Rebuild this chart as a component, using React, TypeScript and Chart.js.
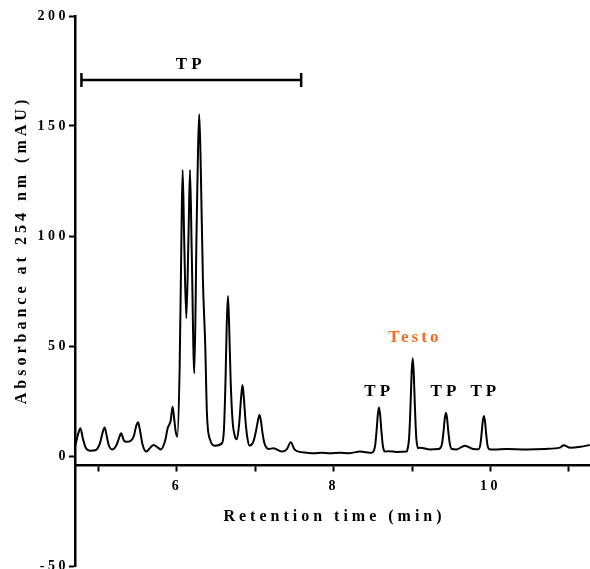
import React, { useEffect, useRef } from "react";
import { Chart, registerables } from "chart.js";

Chart.register(...registerables);

// Retention time (min)
const time = [
  4.706, 4.74, 4.769, 4.8, 4.84, 4.9, 4.96, 5.02, 5.055, 5.079,
  5.105, 5.13, 5.173, 5.23, 5.265, 5.288, 5.325, 5.355, 5.406, 5.45,
  5.48, 5.504, 5.53, 5.56, 5.61, 5.66, 5.703, 5.75, 5.797, 5.85,
  5.882, 5.92, 5.945, 5.965, 5.985, 6.005, 6.035, 6.058, 6.073, 6.092,
  6.12, 6.148, 6.167, 6.188, 6.222, 6.25, 6.27, 6.285, 6.305, 6.332,
  6.362, 6.383, 6.425, 6.489, 6.575, 6.6, 6.62, 6.636, 6.651, 6.666,
  6.686, 6.71, 6.74, 6.766, 6.795, 6.82, 6.837, 6.855, 6.875, 6.9,
  6.926, 6.98, 7.018, 7.036, 7.054, 7.072, 7.09, 7.115, 7.168, 7.232,
  7.339, 7.4, 7.453, 7.5, 7.55, 7.657, 7.75, 7.85, 7.95, 8.08,
  8.2, 8.336, 8.485, 8.503, 8.528, 8.548, 8.563, 8.578, 8.593, 8.608,
  8.628, 8.653, 8.7, 8.8, 8.931, 8.938, 8.963, 8.98, 8.994, 9.008,
  9.022, 9.036, 9.053, 9.078, 9.101, 9.228, 9.334, 9.357, 9.382, 9.402,
  9.417, 9.432, 9.447, 9.462, 9.482, 9.507, 9.568, 9.674, 9.78, 9.846,
  9.871, 9.888, 9.902, 9.916, 9.93, 9.944, 9.961, 9.986, 10.05, 10.205,
  10.46, 10.7, 10.884, 10.935, 11.011, 11.15, 11.266,
];

// Absorbance at 254 nm (mAU)
const absorbance = [
  5.0, 10, 12.6, 8, 3.5, 2.4, 2.6, 6, 11, 13.0,
  9, 5, 3.0, 5, 8.5, 10.3, 7, 6.5, 6.8, 9,
  13.5, 15.3, 11.5, 5.5, 2.0, 3.8, 5.0, 4, 3.0, 7,
  12.6, 16, 22.4, 17, 11, 8.8, 40, 100, 130, 100,
  62.6, 100, 130, 95, 37.6, 100, 140, 155.3, 130, 80,
  49.7, 19.4, 7.3, 4.7, 5.8, 12, 34, 60, 72.7, 60,
  34, 16, 9, 7.6, 15, 27, 32.3, 26, 16, 8,
  4.7, 7, 13, 16.5, 18.6, 16, 11, 6, 3.2, 3.5,
  2.0, 3, 6.2, 3, 2.0, 1.5, 1.2, 1.5, 1.2, 1.5,
  1.3, 2.0, 1.5, 1.8, 4.5, 11.8, 18.7, 22.0, 18.7, 11.8,
  4.5, 2.0, 2.2, 1.8, 2.0, 2.5, 8.7, 22.6, 37.3, 44.4,
  37.3, 22.6, 8.7, 3.5, 3.8, 3.0, 3.2, 3.5, 5.5, 11.3,
  17, 19.7, 17, 11.3, 5.5, 3.2, 3.0, 4.7, 3.2, 3.1,
  5.2, 10.6, 15.8, 18.2, 15.8, 10.6, 5.2, 3.1, 3.0, 3.2,
  3.0, 3.2, 3.8, 4.9, 3.8, 4.2, 5.0,
];

const xMin = 4.7;
const xMax = 11.27;
const xLabelled = [6, 8, 10];
const xAxisCross = -4.3;
const yMin = -50;
const yMax = 200;
const yStep = 50;

// Annotations (data units)
const tpRangeStart = 4.782;
const tpRangeEnd = 7.585;
const tpRangeLevel = 170.9;
const tpRangeLabel = "TP";
const tpRangeLabelTime = 6.15;
const tpRangeLabelLevel = 178;
const peakLabels = ["TP", "Testo", "TP", "TP"];
const peakLabelTimes = [8.555, 9.01, 9.4, 9.91];
const peakLabelLevels = [29.2, 54, 29.2, 29.2];
const peakLabelColors = ["#000000", "#F26C22", "#000000", "#000000"];

const xTitle = "Retention time (min)";
const yTitle = "Absorbance at 254 nm (mAU)";

const FONT = "'Liberation Serif', 'Times New Roman', serif";

const spacingPlugin = {
  id: "letterSpacing",
  beforeLayout(chart: any) {
    chart.ctx.letterSpacing = "3.5px";
  },
  beforeDraw(chart: any) {
    chart.ctx.letterSpacing = "3.5px";
  },
};

const annotationPlugin = {
  id: "annotations",
  afterDraw(chart: any) {
    const { ctx, chartArea } = chart;
    const xs = chart.scales.x;
    const ys = chart.scales.y;
    ctx.save();
    // TP bracket
    const x1 = xs.getPixelForValue(tpRangeStart);
    const x2 = xs.getPixelForValue(tpRangeEnd);
    const yb = ys.getPixelForValue(tpRangeLevel);
    ctx.strokeStyle = "#000";
    ctx.lineWidth = 2.5;
    ctx.beginPath();
    ctx.moveTo(x1, yb);
    ctx.lineTo(x2, yb);
    ctx.moveTo(x1, yb - 7);
    ctx.lineTo(x1, yb + 7);
    ctx.moveTo(x2, yb - 7);
    ctx.lineTo(x2, yb + 7);
    ctx.stroke();

    ctx.font = `bold 17px ${FONT}`;
    ctx.letterSpacing = "4px";
    ctx.textAlign = "center";
    ctx.textBaseline = "middle";
    ctx.fillStyle = "#000";
    ctx.fillText(tpRangeLabel, xs.getPixelForValue(tpRangeLabelTime) + 2, ys.getPixelForValue(tpRangeLabelLevel));

    peakLabels.forEach((lab, i) => {
      ctx.fillStyle = peakLabelColors[i];
      ctx.letterSpacing = lab === "Testo" ? "3px" : "4px";
      ctx.fillText(lab, xs.getPixelForValue(peakLabelTimes[i]) + 2, ys.getPixelForValue(peakLabelLevels[i]));
    });

    // Axis titles
    ctx.font = `bold 16px ${FONT}`;
    ctx.fillStyle = "#000";
    ctx.letterSpacing = "4px";
    ctx.fillText(xTitle, (chartArea.left + chartArea.right) / 2 + 2, ys.getPixelForValue(xAxisCross) + 51);

    ctx.translate(22, (chartArea.top + chartArea.bottom) / 2 - 39);
    ctx.rotate(-Math.PI / 2);
    ctx.fillText(yTitle, 2, 0);
    ctx.restore();
  },
};

export default function App() {
  const ref = useRef<HTMLCanvasElement | null>(null);

  useEffect(() => {
    if (!ref.current) return;
    const chart = new Chart(ref.current, {
      type: "line",
      data: {
        datasets: [
          {
            data: time.map((t, i) => ({ x: t, y: absorbance[i] })),
            borderColor: "#000",
            borderWidth: 2,
            pointRadius: 0,
            fill: false,
            cubicInterpolationMode: "monotone",
          },
        ],
      },
      options: {
        animation: false,
        responsive: false,
        devicePixelRatio: 1,
        layout: { padding: { top: 16, bottom: 14, left: 0, right: 0 } },
        plugins: {
          legend: { display: false },
          tooltip: { enabled: false },
        },
        scales: {
          x: {
            type: "linear",
            min: xMin,
            max: xMax,
            position: { y: xAxisCross } as any,
            grid: {
              display: true,
              drawOnChartArea: false,
              drawTicks: true,
              tickLength: 5,
              tickWidth: 2,
              tickColor: "#000",
            },
            border: { display: true, color: "#000", width: 2.5 },
            ticks: {
              stepSize: 1,
              includeBounds: false,
              autoSkip: false,
              maxRotation: 0,
              padding: 8,
              color: "#000",
              font: { family: FONT, weight: "bold", size: 14 },
              callback: (v: any) => (xLabelled.includes(Number(v)) ? String(v) : ""),
            },
          },
          y: {
            type: "linear",
            min: yMin,
            max: yMax,
            afterFit: (scale: any) => {
              scale.width = 75;
            },
            grid: {
              display: true,
              drawOnChartArea: false,
              drawTicks: true,
              tickLength: 6,
              tickWidth: 2,
              tickColor: "#000",
            },
            border: { display: true, color: "#000", width: 2.5 },
            ticks: {
              stepSize: yStep,
              padding: 0,
              color: "#000",
              font: { family: FONT, weight: "bold", size: 14 },
            },
          },
        },
      } as any,
      plugins: [spacingPlugin, annotationPlugin],
    });
    return () => chart.destroy();
  }, []);

  return (
    <div style={{ position: "fixed", left: 0, top: 0, width: 590, height: 569, overflow: "hidden", background: "#fff" }}>
      <canvas ref={ref} width={590} height={580} style={{ width: 590, height: 580, display: "block" }} />
    </div>
  );
}
